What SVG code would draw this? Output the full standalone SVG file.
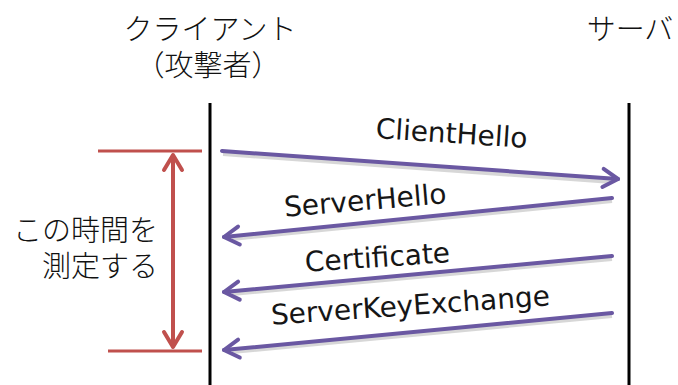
<svg xmlns="http://www.w3.org/2000/svg" width="678" height="385" viewBox="0 0 678 385">
  <defs>
    <style>
      .jp { font-family: "Noto Sans CJK JP", "Noto Sans", sans-serif; font-size: 29px; font-weight: 300; fill: #111; }
      .jp2 { font-family: "Noto Sans CJK JP", "Noto Sans", sans-serif; font-size: 29px; font-weight: 300; fill: #111; text-anchor: end; }
      .msg { font-family: "DejaVu Sans", Verdana, sans-serif; font-size: 28px; fill: #161616; text-anchor: middle; }
      .life { stroke: #000; stroke-width: 3; }
      .msgline { stroke: #6a58a2; stroke-width: 4; fill: none; stroke-linecap: round; marker-end: url(#openArrow); }
      .shadow { stroke: #bdbdbd; stroke-width: 4; fill: none; opacity: 0.6; }
      .mark { stroke: #c0504d; stroke-width: 3; }
      .span { stroke: #c0504d; stroke-width: 4; fill: none; marker-start: url(#redArrow); marker-end: url(#redArrow); }
    </style>
    <marker id="openArrow" viewBox="0 0 12 12" refX="10" refY="6" markerWidth="6" markerHeight="6" orient="auto-start-reverse" markerUnits="strokeWidth">
      <path d="M2.5,1.5 L10,6 L2.5,10.5" fill="none" stroke="#6a58a2" stroke-width="2" stroke-linecap="round" stroke-linejoin="round"/>
    </marker>
    <marker id="redArrow" viewBox="0 0 12 12" refX="10" refY="6" markerWidth="6" markerHeight="6" orient="auto-start-reverse" markerUnits="strokeWidth">
      <path d="M2.5,1.5 L10,6 L2.5,10.5" fill="none" stroke="#c0504d" stroke-width="2" stroke-linecap="round" stroke-linejoin="round"/>
    </marker>
  </defs>
  <rect width="678" height="385" fill="#fff"/>

  <!-- participants -->
  <g id="client">
    <text class="jp" x="210" y="40" text-anchor="middle">クライアント</text>
    <text class="jp" x="208" y="76" text-anchor="middle" font-size="28">（攻撃者）</text>
    <line class="life" x1="210" y1="103" x2="210" y2="385"/>
  </g>
  <g id="server">
    <text class="jp" x="630" y="40" text-anchor="middle">サーバ</text>
    <line class="life" x1="629" y1="103" x2="629" y2="385"/>
  </g>

  <!-- measured interval -->
  <g id="interval">
    <line class="mark" x1="98" y1="151" x2="202" y2="151"/>
    <line class="mark" x1="108" y1="351" x2="202" y2="351"/>
    <line class="span" x1="173" y1="155" x2="173" y2="347"/>
    <text class="jp2" x="158" y="241">この時間を</text>
    <text class="jp2" x="158" y="277">測定する</text>
  </g>

  <!-- messages -->
  <g id="connectors">
    <line class="shadow" x1="223" y1="154" x2="612" y2="182"/>
    <line class="shadow" x1="612" y1="201" x2="232" y2="239"/>
    <line class="shadow" x1="612" y1="259" x2="232" y2="294"/>
    <line class="shadow" x1="612" y1="316" x2="232" y2="352"/>
    <line class="msgline" x1="222" y1="151" x2="618" y2="179"/>
    <line class="msgline" x1="612" y1="198" x2="224" y2="237"/>
    <line class="msgline" x1="612" y1="256" x2="224" y2="292"/>
    <line class="msgline" x1="612" y1="313" x2="224" y2="350"/>
  </g>

  <g id="label-clienthello">
    <text class="msg" transform="translate(451 143) rotate(3.7)">ClientHello</text>
  </g>
  <g id="label-serverhello">
    <text class="msg" transform="translate(366 210) rotate(-4.8)">ServerHello</text>
  </g>
  <g id="label-certificate">
    <text class="msg" transform="translate(378 267) rotate(-3.8)">Certificate</text>
  </g>
  <g id="label-serverkeyexchange">
    <text class="msg" transform="translate(411 315) rotate(-4)">ServerKeyExchange</text>
  </g>
</svg>
